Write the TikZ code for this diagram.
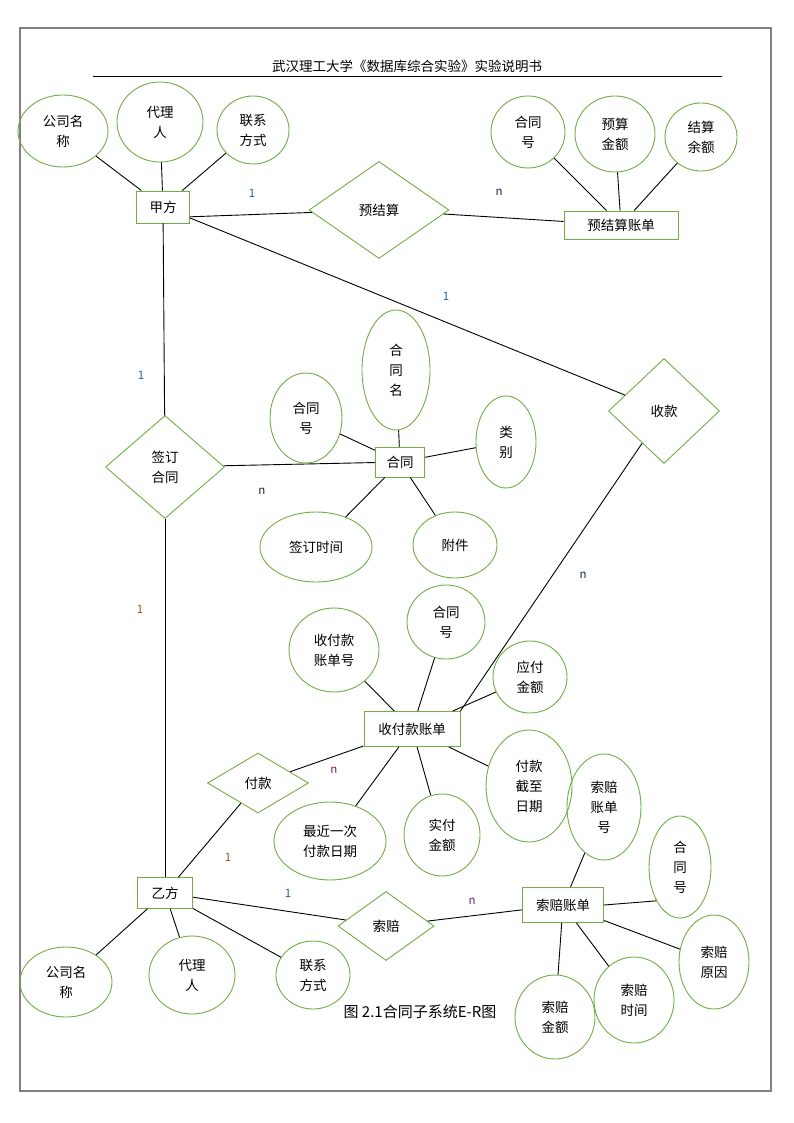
\documentclass[tikz,border=0pt]{standalone}
\usepackage{fontspec}
\setmainfont{Noto Sans CJK SC}
\usetikzlibrary{shapes.geometric}
\definecolor{ergreen}{RGB}{112,173,71}
\definecolor{frame gray}{RGB}{128,128,128}
\definecolor{card blue}{RGB}{30,95,165}
\definecolor{card brown}{RGB}{150,80,20}
\definecolor{card purple}{RGB}{120,30,100}
\definecolor{card dark}{RGB}{25,40,60}

\begin{document}
\begin{tikzpicture}[x=1pt, y=-1pt, line width=0.9pt,
    every node/.style={font=\fontsize{13.5}{20}\selectfont, align=center, inner sep=0pt},
    entity/.style={draw=ergreen, rectangle},
    attribute/.style={draw=ergreen, ellipse},
    relation/.style={draw=ergreen, diamond},
    card/.style={font=\fontsize{11.5}{13}\selectfont}]
    \useasboundingbox (0, 0) rectangle (794, 1123);
    \draw[frame gray, line width=2pt] (20, 28) rectangle (771, 1091);
    \node (title) at (407, 66) {武汉理工大学《数据库综合实验》实验说明书};
    \coordinate (rule left) at (93, 76);
    \coordinate (rule right) at (722, 76);
    \draw (rule left) -- (rule right);
    \node[entity, minimum width=53, minimum height=32] (party a) at (163, 207) {甲方};
    \node[attribute, minimum width=90, minimum height=72] (a company) at (63, 131) {公司名\\称};
    \node[attribute, minimum width=86, minimum height=80] (a agent) at (160, 122) {代理\\人};
    \node[attribute, minimum width=72, minimum height=68] (a contact) at (253, 130) {联系\\方式};
    \draw (party a) -- (a company);
    \draw (party a) -- (a agent);
    \draw (party a) -- (a contact);
    \node[relation, minimum width=140, minimum height=97] (presettle) at (379, 210) {预结算};
    \node[entity, minimum width=114, minimum height=28] (presettle bill) at (621, 225) {预结算账单};
    \draw (party a.-20) -- (presettle);
    \draw (presettle) -- (presettle bill);
    \node[card, text=card blue] (card pa) at (252, 193) {1};
    \node[card, text=card dark] (card pb) at (499, 192) {n};
    \node[attribute, minimum width=74, minimum height=72] (pb contract no) at (528, 132) {合同\\号};
    \node[attribute, minimum width=80, minimum height=76] (pb budget) at (615, 134) {预算\\金额};
    \node[attribute, minimum width=72, minimum height=68] (pb balance) at (701, 137) {结算\\余额};
    \draw (presettle bill) -- (pb contract no);
    \draw (presettle bill) -- (pb budget);
    \draw (presettle bill) -- (pb balance);
    \node[relation, minimum width=111, minimum height=105] (collect) at (664, 411) {收款};
    \draw (party a) -- (collect);
    \node[card, text=card blue] (card ca) at (446, 296) {1};
    \node[relation, minimum width=119, minimum height=103] (sign) at (165, 467) {签订\\合同};
    \node[entity, minimum width=49, minimum height=30] (contract) at (400, 462) {合同};
    \draw (party a) -- (sign);
    \draw (sign) -- (contract);
    \node[card, text=card blue] (card sa) at (141, 375) {1};
    \node[card, text=card dark] (card sc) at (262, 491) {n};
    \node[attribute, minimum width=72, minimum height=90] (c no) at (306, 418) {合同\\号};
    \node[attribute, minimum width=68, minimum height=120] (c name) at (396, 370) {合\\同\\名};
    \node[attribute, minimum width=60, minimum height=92] (c type) at (506, 442) {类\\别};
    \node[attribute, minimum width=112, minimum height=70] (c date) at (316, 547) {签订时间};
    \node[attribute, minimum width=84, minimum height=66] (c attach) at (455, 545) {附件};
    \draw (contract) -- (c no);
    \draw (contract) -- (c name);
    \draw (contract) -- (c type);
    \draw (contract) -- (c date);
    \draw (contract) -- (c attach);
    \node[entity, minimum width=55, minimum height=31] (party b) at (165, 893) {乙方};
    \draw (sign) -- (party b);
    \node[card, text=card brown] (card sb) at (140, 609) {1};
    \node[attribute, minimum width=92, minimum height=70] (b company) at (66, 982) {公司名\\称};
    \node[attribute, minimum width=86, minimum height=78] (b agent) at (192, 975) {代理\\人};
    \node[attribute, minimum width=74, minimum height=68] (b contact) at (313, 975) {联系\\方式};
    \draw (party b) -- (b company);
    \draw (party b) -- (b agent);
    \draw (party b) -- (b contact);
    \node[relation, minimum width=101, minimum height=60] (pay) at (258, 783) {付款};
    \node[entity, minimum width=96, minimum height=35] (pay bill) at (412, 729) {收付款账单};
    \draw (party b) -- (pay);
    \draw (pay) -- (pay bill);
    \draw (collect) -- (pay bill.north east);
    \node[card, text=card brown] (card pyb) at (228, 857) {1};
    \node[card, text=card purple] (card pyl) at (334, 770) {n};
    \node[card, text=card dark] (card cl) at (583, 575) {n};
    \node[attribute, minimum width=90, minimum height=84] (pay bill no) at (334, 650) {收付款\\账单号};
    \node[attribute, minimum width=78, minimum height=74] (pay contract no) at (446, 622) {合同\\号};
    \node[attribute, minimum width=74, minimum height=72] (pay due amount) at (530, 677) {应付\\金额};
    \node[attribute, minimum width=86, minimum height=112] (pay deadline) at (529, 786) {付款\\截至\\日期};
    \node[attribute, minimum width=76, minimum height=82] (pay actual amount) at (442, 835) {实付\\金额};
    \node[attribute, minimum width=112, minimum height=78] (pay last date) at (330, 841) {最近一次\\付款日期};
    \draw (pay bill) -- (pay bill no);
    \draw (pay bill) -- (pay contract no);
    \draw (pay bill) -- (pay due amount);
    \draw (pay bill) -- (pay deadline);
    \draw (pay bill) -- (pay actual amount);
    \draw (pay bill) -- (pay last date);
    \node[relation, minimum width=96, minimum height=69] (claim) at (386, 926) {索赔};
    \node[entity, minimum width=81, minimum height=35] (claim bill) at (563, 905) {索赔账单};
    \draw (party b) -- (claim);
    \draw (claim) -- (claim bill);
    \node[card, text=card blue] (card clb) at (288, 893) {1};
    \node[card, text=card purple] (card clm) at (472, 901) {n};
    \node[attribute, minimum width=74, minimum height=106] (claim bill no) at (604, 807) {索赔\\账单\\号};
    \node[attribute, minimum width=62, minimum height=102] (claim contract no) at (680, 867) {合\\同\\号};
    \node[attribute, minimum width=70, minimum height=94] (claim reason) at (714, 962) {索赔\\原因};
    \node[attribute, minimum width=80, minimum height=86] (claim time) at (634, 1000) {索赔\\时间};
    \node[attribute, minimum width=80, minimum height=84] (claim amount) at (555, 1017) {索赔\\金额};
    \draw (claim bill) -- (claim bill no);
    \draw (claim bill.east) -- (claim contract no.235);
    \draw (claim bill) -- (claim reason);
    \draw (claim bill) -- (claim time);
    \draw (claim bill) -- (claim amount);
    \node[font=\fontsize{15}{18}\selectfont] (caption) at (420, 1012) {图 2.1合同子系统E-R图};
\end{tikzpicture}
\end{document}
